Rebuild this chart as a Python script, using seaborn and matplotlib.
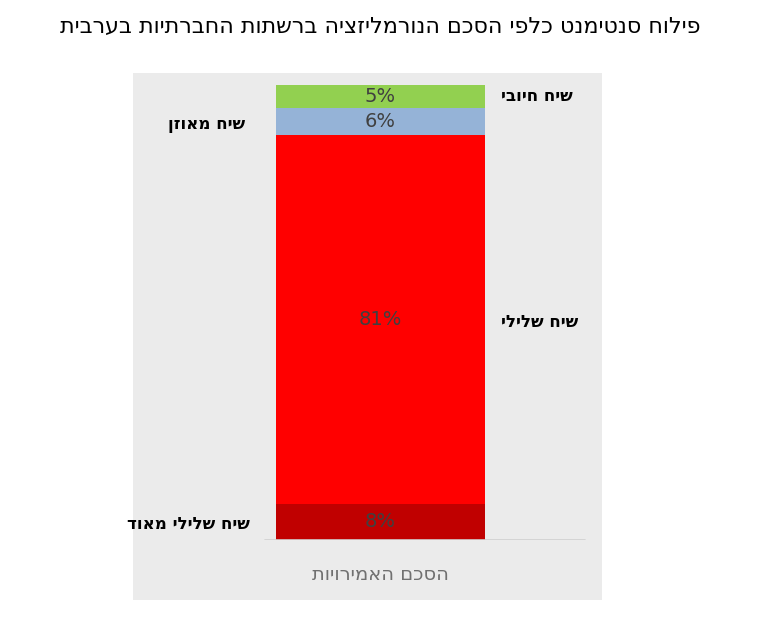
import matplotlib
matplotlib.use("Agg")
import matplotlib.pyplot as plt
import seaborn as sns
import pandas as pd
from matplotlib.patches import Rectangle

def rtl(s):
    return s[::-1]

title = "פילוח סנטימנט כלפי הסכם הנורמליזציה ברשתות החברתיות בערבית"
category = "הסכם האמירויות"
segments = ["שיח שלילי מאוד", "שיח שלילי", "שיח מאוזן", "שיח חיובי"]
values = [8, 81, 6, 5]
colors = ["#C00000", "#FF0000", "#95B3D7", "#92D050"]

sns.set_theme(style="white")
plt.rcParams['font.family'] = ['DejaVu Sans']

fig = plt.figure(figsize=(7.58, 6.18), dpi=100)
fig.patches.append(Rectangle((133/758, 1-600/618), (602-133)/758, (600-73)/618,
                             transform=fig.transFigure, facecolor="#EBEBEB", edgecolor="none", zorder=-10))
ax = fig.add_axes([133/758, 1-540/618, (602-133)/758, (540-85)/618])
ax.set_facecolor("none")
ax.patch.set_visible(False)

bottom = 0
for seg, v, c in zip(segments, values, colors):
    df = pd.DataFrame({"cat": [category], "val": [v]})
    sns.barplot(data=df, x="cat", y="val", bottom=bottom, color=c, width=1.0,
                saturation=1, ax=ax, edgecolor="none")
    ax.text(0, bottom + v/2, f"{v}%", ha="center", va="center", fontsize=14, color="#404040")
    bottom += v

a = -(380.5-133)/209
ax.set_xlim(a, a + 469/209)
ax.set_ylim(0, 100)
ax.axhline(0, xmin=(265-133)/469, xmax=(585-133)/469, color="#D0D0D0", lw=1.2)
for s in ax.spines.values():
    s.set_visible(False)
ax.set_xticks([]); ax.set_yticks([])
ax.set_xlabel(""); ax.set_ylabel("")

kw = dict(ha="center", va="center", fontsize=12, fontweight="bold", color="black", clip_on=False)
ax.text(0.75, 97.5, rtl(segments[3]), **kw)
ax.text(-0.83, 91.5, rtl(segments[2]), **kw)
ax.text(0.76, 48, rtl(segments[1]), **kw)
ax.text(-0.92, 3.5, rtl(segments[0]), **kw)

fig.text(380/758, 1-575/618, rtl(category), ha="center", va="center", fontsize=14, color="#707070")
fig.text(380/758, 1-27/618, rtl(title), ha="center", va="center", fontsize=16, color="black")

fig.savefig("out.png", dpi=100)
